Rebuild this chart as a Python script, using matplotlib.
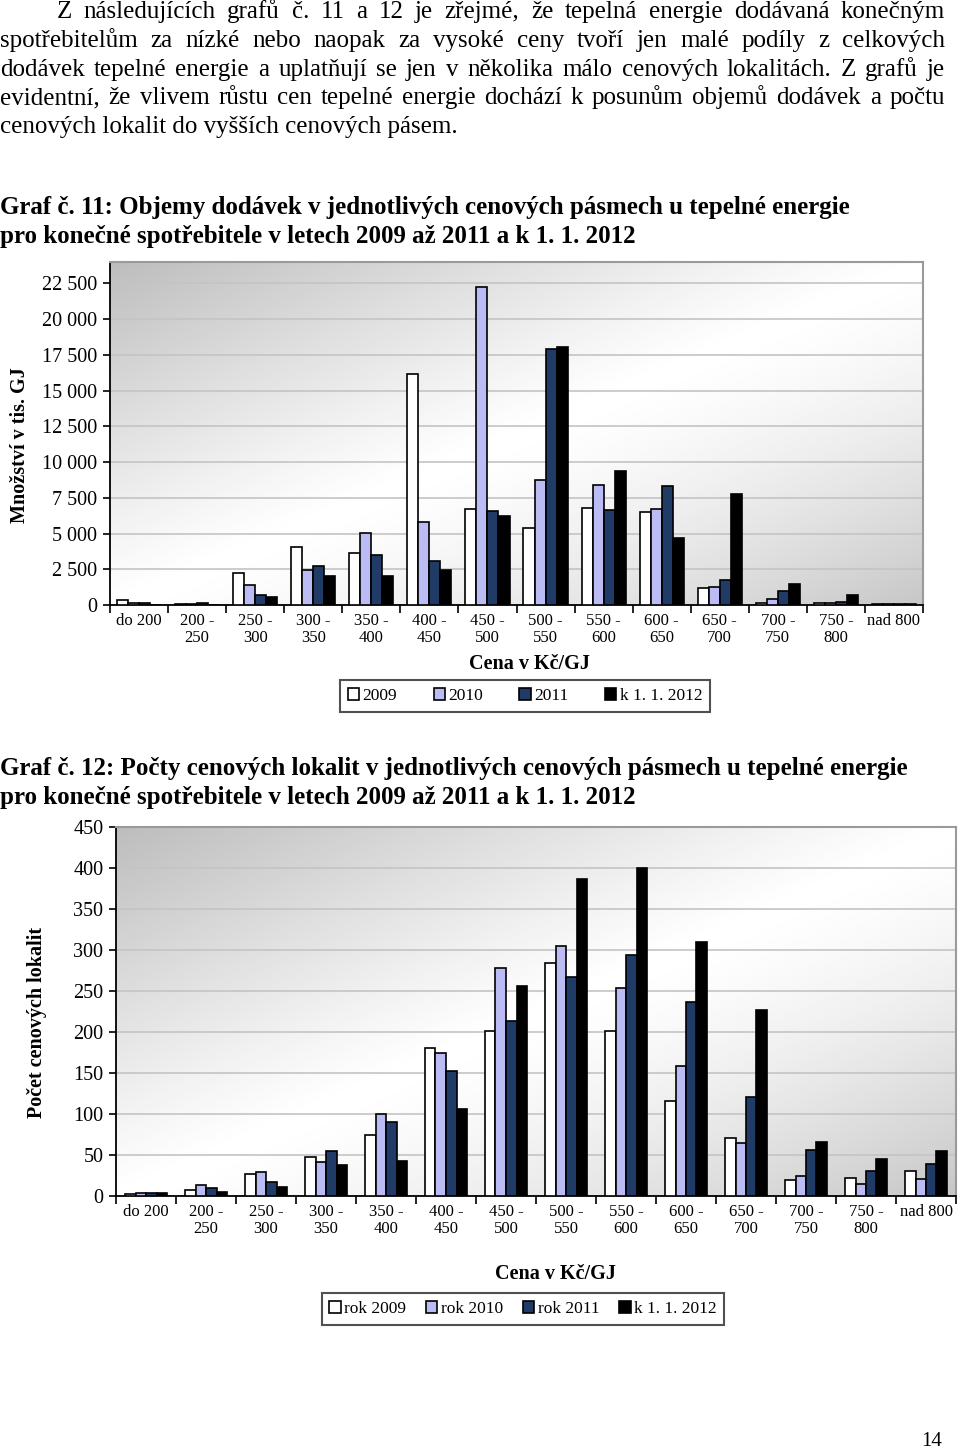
import matplotlib
matplotlib.use("Agg")
import matplotlib.pyplot as plt
from matplotlib.patches import Rectangle
from matplotlib.ticker import FuncFormatter
import numpy as np

plt.rcParams['font.family'] = ['Liberation Serif', 'DejaVu Serif']

# --- data ---
pasma = ["do 200", "200 -\n250", "250 -\n300", "300 -\n350", "350 -\n400",
         "400 -\n450", "450 -\n500", "500 -\n550", "550 -\n600", "600 -\n650",
         "650 -\n700", "700 -\n750", "750 -\n800", "nad 800"]

# Graf 11: objemy dodavek (tis. GJ)
obj_2009 = [350, 100, 2270, 4090, 3620, 16170, 6730, 5400, 6800, 6540, 1190, 160, 160, 90]
obj_2010 = [160, 100, 1400, 2450, 5070, 5820, 22240, 8760, 8430, 6750, 1260, 400, 120, 80]
obj_2011 = [160, 160, 680, 2710, 3500, 3080, 6610, 17920, 6640, 8360, 1750, 960, 230, 80]
obj_2012 = [20, 30, 540, 2060, 2060, 2450, 6210, 18040, 9390, 4670, 7760, 1500, 700, 80]

# Graf 12: pocty cenovych lokalit
pocet_2009 = [2, 7, 27, 48, 74, 180, 201, 284, 201, 116, 71, 20, 22, 30]
pocet_2010 = [4, 13, 29, 41, 100, 175, 278, 305, 254, 159, 65, 25, 15, 21]
pocet_2011 = [4, 10, 17, 55, 90, 153, 213, 267, 294, 236, 121, 56, 30, 39]
pocet_2012 = [4, 5, 11, 38, 43, 106, 256, 386, 400, 310, 227, 66, 45, 55]

legenda1 = ["2009", "2010", "2011", "k 1. 1. 2012"]
legenda2 = ["rok 2009", "rok 2010", "rok 2011", "k 1. 1. 2012"]
barvy = ["#ffffff", "#bcbcf4", "#1f3b66", "#000000"]

odstavec = [
    "Z následujících grafů č. 11 a 12 je zřejmé, že tepelná energie dodávaná konečným",
    "spotřebitelům za nízké nebo naopak za vysoké ceny tvoří jen malé podíly z celkových",
    "dodávek tepelné energie a uplatňují se jen v několika málo cenových lokalitách. Z grafů je",
    "evidentní, že vlivem růstu cen tepelné energie dochází k posunům objemů dodávek a počtu",
    "cenových lokalit do vyšších cenových pásem.",
]
nadpis1 = ["Graf č. 11: Objemy dodávek v jednotlivých cenových pásmech u tepelné energie",
           "pro konečné spotřebitele v letech 2009 až 2011 a k 1. 1. 2012"]
nadpis2 = ["Graf č. 12: Počty cenových lokalit v jednotlivých cenových pásmech u tepelné energie",
           "pro konečné spotřebitele v letech 2009 až 2011 a k 1. 1. 2012"]

W, H = 960, 1452
fig = plt.figure(figsize=(W / 100, H / 100), dpi=100)
fig.patch.set_facecolor("white")


def fx(px):
    return px / W


def fy(py):
    return 1 - py / H


renderer = fig.canvas.get_renderer()


def justify(line, x0, x1, base, size):
    words = line.split(" ")
    texts = [fig.text(0, fy(base), w, fontsize=size, va="baseline") for w in words]
    widths = [t.get_window_extent(renderer).width for t in texts]
    need = sum(widths) + 3 * (len(words) - 1)
    if need > x1 - x0:
        f = (x1 - x0) / need
        for t in texts:
            t.set_fontsize(size * f)
        widths = [t.get_window_extent(renderer).width for t in texts]
    gap = (x1 - x0 - sum(widths)) / (len(words) - 1)
    x = x0
    for t, wd in zip(texts, widths):
        t.set_x(fx(x))
        x += wd + gap


# paragraph
psize = 18
bases = [18, 47, 76, 104, 133]
for i, line in enumerate(odstavec):
    x0 = 57 if i == 0 else 0
    if i < len(odstavec) - 1:
        justify(line, x0, 945, bases[i], psize)
    else:
        fig.text(fx(x0), fy(bases[i]), line, fontsize=psize, va="baseline")

hsize = 18
fig.text(0, fy(214), nadpis1[0], fontsize=hsize, fontweight="bold", va="baseline")
fig.text(0, fy(243), nadpis1[1], fontsize=hsize, fontweight="bold", va="baseline")
fig.text(0, fy(775), nadpis2[0], fontsize=hsize, fontweight="bold", va="baseline")
fig.text(0, fy(804), nadpis2[1], fontsize=hsize, fontweight="bold", va="baseline")
fig.text(fx(932), fy(1441), "14", fontsize=15, ha="center", va="center")

# background gradient for plot area
xx, yy = np.meshgrid(np.linspace(0, 1, 200), np.linspace(1, 0, 200))
t = (xx + (1 - yy)) / 2
grad = 1 - 0.26 * np.clip(1 - t / 0.5, 0, 1) ** 1.1 - 0.22 * np.clip((t - 0.5) / 0.5, 0, 1) ** 1.4


def graf(rect, series, ymax, ystep, bw, ylabel, legend_labels, leg_center, leg_sp, xlab_pos, ylab_pos):
    ax = fig.add_axes(rect)
    ax.imshow(grad, cmap="gray", vmin=0, vmax=1, extent=(0, 1, 0, 1),
              transform=ax.transAxes, aspect="auto", zorder=0, interpolation="bilinear")
    x = np.arange(len(pasma))
    for k, (vals, c) in enumerate(zip(series, barvy)):
        ax.bar(x + (k - 1.5) * bw, vals, width=bw, color=c, edgecolor="black",
               linewidth=1.2, zorder=3)
    ax.set_xlim(-0.5, len(pasma) - 0.5)
    ax.set_ylim(0, ymax)
    ax.set_yticks(np.arange(0, ymax + 1, ystep))
    ax.yaxis.set_major_formatter(FuncFormatter(lambda v, p: f"{int(v):,}".replace(",", " ")))
    ax.grid(axis="y", color="#c4c4c4", linewidth=1.2, zorder=1)
    ax.set_axisbelow(True)
    ax.set_xticks(np.arange(-0.5, len(pasma), 1))
    ax.set_xticklabels([])
    ax.set_xticks(x, minor=True)
    ax.set_xticklabels(pasma, minor=True, fontsize=12, linespacing=1.05)
    ax.tick_params(axis="x", which="major", direction="out", length=6, width=1.2, color="black")
    ax.tick_params(axis="x", which="minor", length=0, pad=6)
    ax.tick_params(axis="y", direction="out", length=5, width=1.2, labelsize=14.5, pad=4)
    for s in ["left", "bottom"]:
        ax.spines[s].set_color("black")
        ax.spines[s].set_linewidth(1.3)
    for s in ["top", "right"]:
        ax.spines[s].set_color("#9a9a9a")
        ax.spines[s].set_linewidth(1.5)
    fig.text(fx(xlab_pos[0]), fy(xlab_pos[1]), "Cena v Kč/GJ", fontsize=14.5,
             fontweight="bold", ha="center", va="center")
    fig.text(fx(ylab_pos[0]), fy(ylab_pos[1]), ylabel, fontsize=14.5, fontweight="bold",
             ha="center", va="center", rotation=90)
    handles = [Rectangle((0, 0), 1, 1, facecolor=c, edgecolor="black", linewidth=1.2) for c in barvy]
    leg = fig.legend(handles, legend_labels, loc="center", ncol=4,
                     bbox_to_anchor=(fx(leg_center[0]), fy(leg_center[1])),
                     prop={"family": ["Liberation Serif"], "size": 12.5},
                     handlelength=0.65, handleheight=0.65, handletextpad=0.2,
                     columnspacing=leg_sp, fancybox=False, borderpad=0.45, framealpha=1)
    leg.get_frame().set_edgecolor("#505050")
    leg.get_frame().set_linewidth(1.5)
    return ax


graf([fx(110), fy(605), fx(923) - fx(110), fy(262) - fy(605)],
     [obj_2009, obj_2010, obj_2011, obj_2012], 24000, 2500, 0.19,
     "Množství v tis. GJ", legenda1, (525, 696), 2.1, (529, 664), (20, 445))

graf([fx(116), fy(1196), fx(956) - fx(116), fy(827) - fy(1196)],
     [pocet_2009, pocet_2010, pocet_2011, pocet_2012], 450, 50, 0.175,
     "Počet cenových lokalit", legenda2, (523, 1309), 1.15, (555, 1274), (37, 1022))

fig.savefig("out.png", dpi=100)
